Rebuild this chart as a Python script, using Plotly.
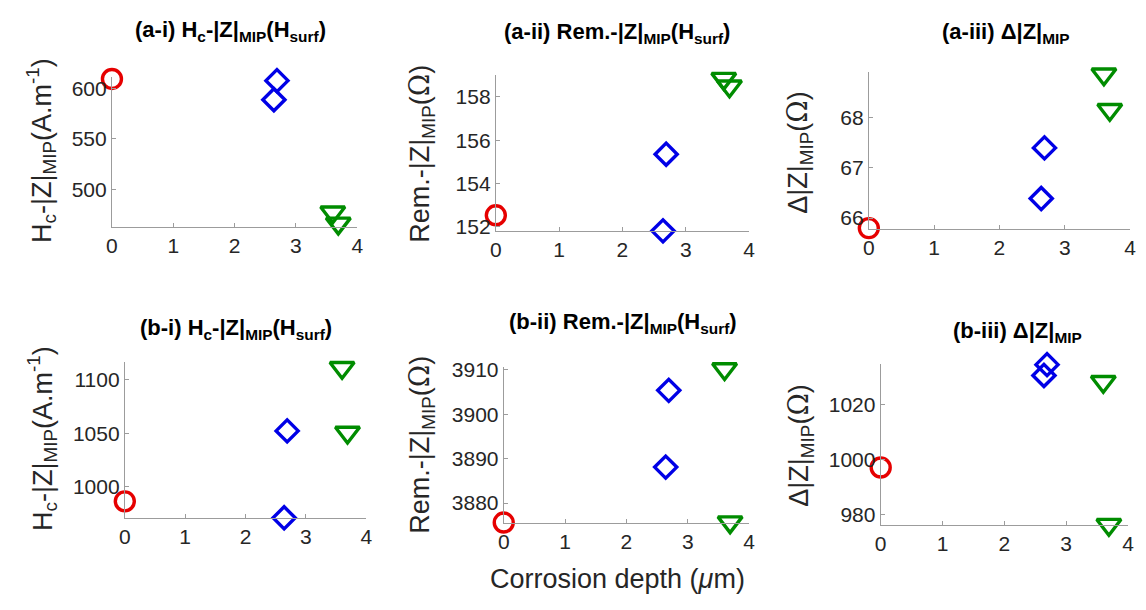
import plotly.graph_objects as go

# ---------------- data ----------------
depth_circle = [0.0]
depth_diamond = [2.69, 2.64]
depth_triangle = [3.60, 3.69]

ai_circle = [609.7]
ai_diamond = [608.0, 589.0]
ai_triangle = [477.0, 466.0]

aii_circle = [152.52]
aii_diamond = [155.35, 151.8]
aii_triangle = [158.85, 158.5]

aiii_circle = [65.8]
aiii_diamond = [67.4, 66.39]
aiii_triangle = [68.87, 68.16]

bi_circle = [986.6]
bi_diamond = [1052.4, 971.2]
bi_triangle = [1111.5, 1050.9]

bii_circle = [3875.6]
bii_diamond = [3905.4, 3888.1]
bii_triangle = [3910.2, 3875.7]

biii_circle = [997.2]
biii_diamond = [1034.4, 1030.5]
biii_triangle = [1028.2, 976.5]

x_ticks = [0, 1, 2, 3, 4]

titles = [
    "<b>(a-i) H<sub>c</sub>-|Z|<sub>MIP</sub>(H<sub>surf</sub>)</b>",
    "<b>(a-ii) Rem.-|Z|<sub>MIP</sub>(H<sub>surf</sub>)</b>",
    "<b>(a-iii) Δ|Z|<sub>MIP</sub></b>",
    "<b>(b-i) H<sub>c</sub>-|Z|<sub>MIP</sub>(H<sub>surf</sub>)</b>",
    "<b>(b-ii) Rem.-|Z|<sub>MIP</sub>(H<sub>surf</sub>)</b>",
    "<b>(b-iii) Δ|Z|<sub>MIP</sub></b>",
]
OMEGA = "<span style='font-family:DejaVu Serif'>Ω</span>"
ylabels = [
    "H<sub>c</sub>-|Z|<sub>MIP</sub>(A.m<sup>-1</sup>)",
    "Rem.-|Z|<sub>MIP</sub>(" + OMEGA + ")",
    "Δ|Z|<sub>MIP</sub>(" + OMEGA + ")",
    "H<sub>c</sub>-|Z|<sub>MIP</sub>(A.m<sup>-1</sup>)",
    "Rem.-|Z|<sub>MIP</sub>(" + OMEGA + ")",
    "Δ|Z|<sub>MIP</sub>(" + OMEGA + ")",
]
xlabel = "Corrosion depth (<i>μ</i>m)"

panels = [
    (ai_circle, ai_diamond, ai_triangle),
    (aii_circle, aii_diamond, aii_triangle),
    (aiii_circle, aiii_diamond, aiii_triangle),
    (bi_circle, bi_diamond, bi_triangle),
    (bii_circle, bii_diamond, bii_triangle),
    (biii_circle, biii_diamond, biii_triangle),
]

# ---------------- layout geometry (screen pixels of the reference) ----------------
SCREEN_W, SCREEN_H = 1146, 610
PAGE_MARGIN = 8  # default body margin of the html page
W, H = SCREEN_W - 2 * PAGE_MARGIN, SCREEN_H - 2 * PAGE_MARGIN
boxes = [  # left, right, top, bottom in screen px
    (107, 355, 70, 224),
    (495, 751, 68, 228),
    (872, 1136, 65, 226),
    (120, 364, 363, 523),
    (503, 751, 368, 528),
    (884, 1134, 365, 530),
]
yranges = [
    [462.2, 611.3],
    [151.79, 159.0],
    [65.78, 68.905],
    [970.9, 1116.4],
    [3875.5, 3910.6],
    [976.4, 1034.5],
]
ydticks = [50, 2, 1, 50, 10, 20]
title_pos = [(227, 22), (617, 24), (1011, 24), (232, 329), (624, 322), (1022, 332)]
ylab_pos = [(36, 145), (420, 149), (802, 147), (37, 441), (420, 448), (803, 448)]

FONT = "Liberation Sans, Arial, Helvetica, sans-serif"
AXIS_COLOR = "#9c9c9c"
TICK_FONT = dict(family=FONT, size=21, color="#262626")


def px_x(v):
    return (v - PAGE_MARGIN) / W


def px_y(v):
    return 1 - (v - PAGE_MARGIN) / H


fig = go.Figure()
layout = dict(
    width=W, height=H,
    margin=dict(l=0, r=0, t=0, b=0),
    paper_bgcolor="white", plot_bgcolor="white",
    showlegend=False,
    annotations=[],
)

for i, (circ, diam, tri) in enumerate(panels):
    k = "" if i == 0 else str(i + 1)
    xa, ya = "x" + k, "y" + k
    fig.add_trace(go.Scatter(
        x=depth_circle, y=circ, mode="markers", xaxis=xa, yaxis=ya, cliponaxis=False,
        marker=dict(symbol="circle-open", size=19, color="#e60000", line=dict(width=3.4, color="#e60000"))))
    fig.add_trace(go.Scatter(
        x=depth_diamond, y=diam, mode="markers", xaxis=xa, yaxis=ya, cliponaxis=False,
        marker=dict(symbol="diamond-open", size=17, color="#0000e6", line=dict(width=3.4, color="#0000e6"))))
    fig.add_trace(go.Scatter(
        x=depth_triangle, y=tri, mode="markers", xaxis=xa, yaxis=ya, cliponaxis=False,
        marker=dict(symbol="triangle-down-open", size=21, color="#008c00", line=dict(width=3.4, color="#008c00"))))

    l, r, t, b = boxes[i]
    layout["xaxis" + k] = dict(
        domain=[px_x(l), px_x(r)], anchor=ya, range=[0, 4], tickvals=x_ticks,
        showline=True, linecolor=AXIS_COLOR, linewidth=1, ticks="inside", ticklen=4,
        tickcolor=AXIS_COLOR, showgrid=False, zeroline=False, tickfont=TICK_FONT,
    )
    layout["yaxis" + k] = dict(
        domain=[px_y(b), px_y(t)], anchor=xa, range=yranges[i], dtick=ydticks[i],
        showline=True, linecolor=AXIS_COLOR, linewidth=1, ticks="inside", ticklen=4,
        tickcolor=AXIS_COLOR, showgrid=False, zeroline=False, tickfont=TICK_FONT,
    )
    tx, ty = title_pos[i]
    layout["annotations"].append(dict(
        text=titles[i], xref="paper", yref="paper", x=px_x(tx), y=px_y(ty),
        xanchor="center", yanchor="middle", showarrow=False,
        font=dict(family=FONT, size=22, color="black")))
    lx, ly = ylab_pos[i]
    layout["annotations"].append(dict(
        text=ylabels[i], xref="paper", yref="paper", x=px_x(lx), y=px_y(ly),
        xanchor="center", yanchor="middle", showarrow=False, textangle=-90,
        font=dict(family=FONT, size=27, color="#262626")))

layout["annotations"].append(dict(
    text=xlabel, xref="paper", yref="paper", x=px_x(618), y=px_y(586),
    xanchor="center", yanchor="middle", showarrow=False,
    font=dict(family=FONT, size=27, color="#262626")))

fig.update_layout(**layout)
fig.write_html("out.html", config={"displayModeBar": False})
